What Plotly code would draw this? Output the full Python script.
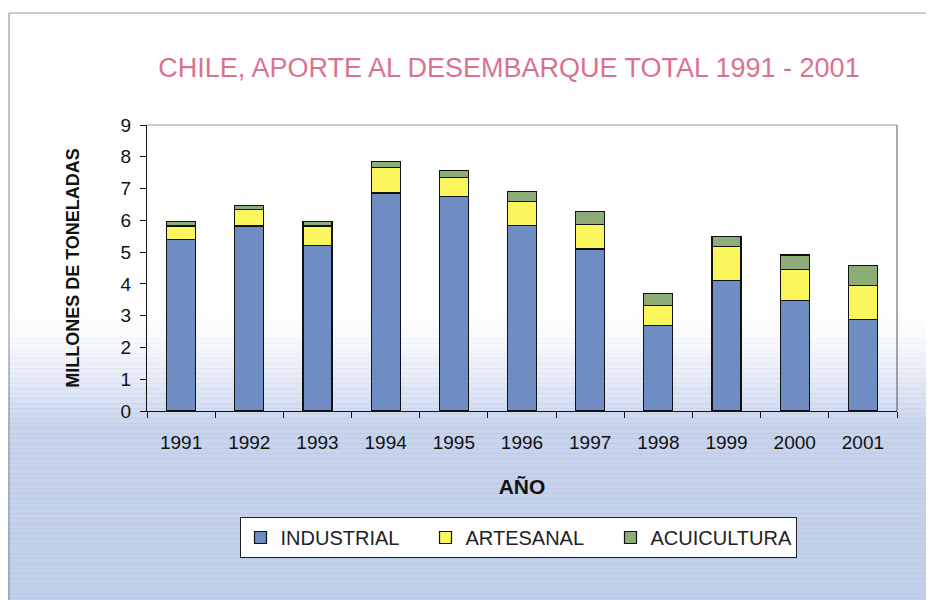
import plotly.graph_objects as go

years = ["1991", "1992", "1993", "1994", "1995", "1996", "1997", "1998", "1999", "2000", "2001"]
industrial = [5.40, 5.82, 5.21, 6.86, 6.76, 5.85, 5.10, 2.68, 4.11, 3.48, 2.89]
artesanal = [0.42, 0.52, 0.61, 0.80, 0.58, 0.75, 0.77, 0.63, 1.06, 0.98, 1.06]
acuicultura = [0.15, 0.12, 0.15, 0.19, 0.22, 0.32, 0.40, 0.39, 0.31, 0.45, 0.62]

series = [
    ("INDUSTRIAL", industrial, "#6f8dc2"),
    ("ARTESANAL", artesanal, "#fbf65c"),
    ("ACUICULTURA", acuicultura, "#8eac78"),
]

fig = go.Figure()
for name, vals, col in series:
    fig.add_trace(go.Bar(
        x=years, y=vals, name=name,
        marker=dict(color=col, line=dict(color="#111111", width=1.2)),
    ))

W, H = 934, 600
L, R, T, B = 139, 45, 117, 197
pw, ph = W - L - R, H - T - B


def px_to_paper_x(px):
    return (px - L) / pw


def px_to_paper_y(py):
    return (H - B - py) / ph


shapes = []
# background gradient (white on top fading to light blue)
n = 60
ys, ye = 300, 600
for i in range(n):
    top = ys + (ye - ys) * i / n
    bot = ys + (ye - ys) * (i + 1) / n
    t = (i + 0.5) / n
    a = 0.66 * (t / 0.4) ** 1.4 if t < 0.4 else 0.66 + 0.08 * (t - 0.4) / 0.6
    shapes.append(dict(
        type="rect", xref="paper", yref="paper", layer="below",
        x0=px_to_paper_x(-5), x1=px_to_paper_x(W + 5),
        y0=px_to_paper_y(bot + 0.5), y1=px_to_paper_y(top),
        fillcolor=f"rgba(172,190,226,{a:.3f})",
        line=dict(width=0),
    ))
# outer frame
shapes.append(dict(type="line", xref="paper", yref="paper",
                   x0=px_to_paper_x(1), x1=px_to_paper_x(1),
                   y0=px_to_paper_y(5), y1=px_to_paper_y(H),
                   line=dict(color="#8a8a8a", width=1)))
shapes.append(dict(type="line", xref="paper", yref="paper",
                   x0=px_to_paper_x(1), x1=px_to_paper_x(W),
                   y0=px_to_paper_y(5), y1=px_to_paper_y(5),
                   line=dict(color="#9a9a9a", width=1)))
# plot-area border (top and right)
shapes.append(dict(type="line", xref="paper", yref="paper",
                   x0=0, x1=1, y0=1, y1=1, line=dict(color="#9a9a9a", width=1)))
shapes.append(dict(type="line", xref="paper", yref="paper",
                   x0=1, x1=1, y0=0, y1=1, line=dict(color="#555555", width=1)))

fig.update_layout(
    width=W, height=H,
    margin=dict(l=L, r=R, t=T, b=B),
    paper_bgcolor="white",
    plot_bgcolor="rgba(0,0,0,0)",
    barmode="stack",
    bargap=0.575,
    font=dict(family="Liberation Sans, Arial, sans-serif", color="#111111"),
    title=dict(
        text="CHILE, APORTE AL DESEMBARQUE TOTAL 1991 - 2001",
        x=501 / W, xanchor="center",
        y=1 - 60 / H, yanchor="middle",
        font=dict(size=27, color="#d9738c"),
    ),
    xaxis=dict(
        type="category",
        showline=True, linecolor="#111111", linewidth=1,
        ticks="outside", ticklen=6, tickcolor="#111111",
        tickson="boundaries",
        tickfont=dict(size=19),
        ticklabelstandoff=14,
        title=dict(text="<b>AÑO</b>", font=dict(size=21), standoff=27),
        showgrid=False,
    ),
    yaxis=dict(
        range=[0, 9], dtick=1,
        showline=True, linecolor="#111111", linewidth=1,
        ticks="outside", ticklen=6, tickcolor="#111111",
        tickfont=dict(size=19),
        ticklabelstandoff=5,
        title=dict(text="<b>MILLONES DE TONELADAS</b>", font=dict(size=18), standoff=36),
        showgrid=False, zeroline=False,
    ),
    legend=dict(
        orientation="h", x=px_to_paper_x(510), xanchor="center",
        y=px_to_paper_y(509), yanchor="top",
        bgcolor="white", bordercolor="#222222", borderwidth=1,
        font=dict(size=20, color="#222222"),
        traceorder="normal",
        itemwidth=30,
        entrywidth=140,
    ),
    shapes=shapes,
)

fig.write_html("out.html")
